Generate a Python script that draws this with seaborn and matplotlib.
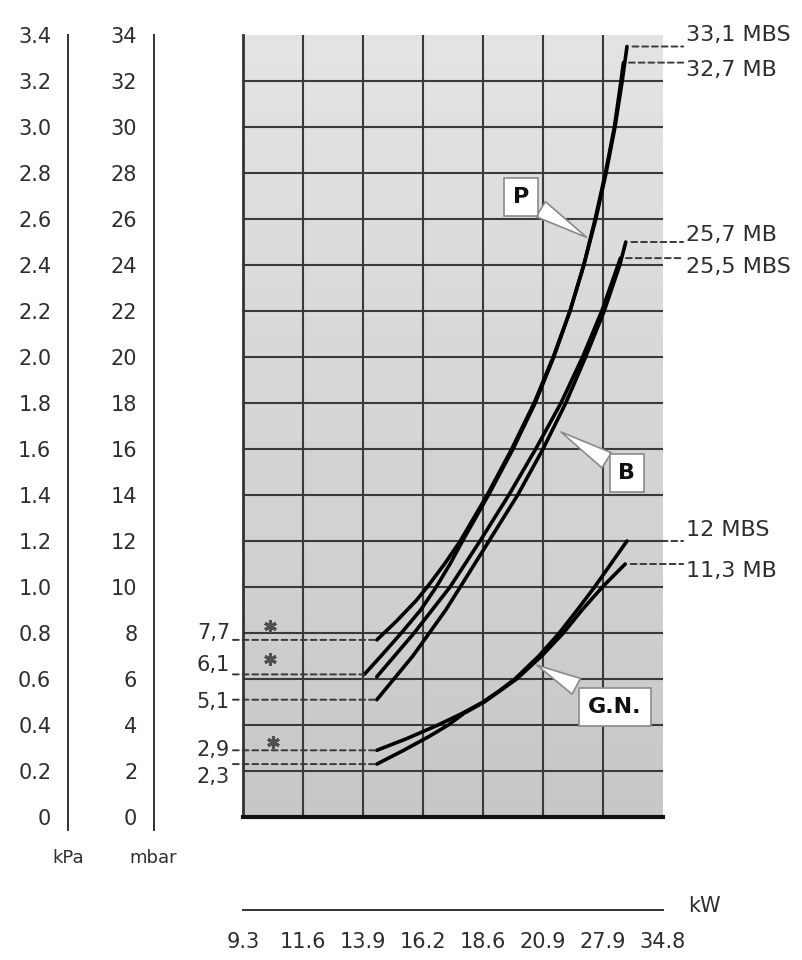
import matplotlib
matplotlib.use("Agg")
import matplotlib.pyplot as plt
import matplotlib.transforms as mtransforms
import numpy as np
import pandas as pd
import seaborn as sns

# kW scale: the ticks are evenly spaced on the chart although the values are not
KW_TICKS = [9.3, 11.6, 13.9, 16.2, 18.6, 20.9, 27.9, 34.8]
KW_LABELS = ["9.3", "11.6", "13.9", "16.2", "18.6", "20.9", "27.9", "34.8"]
MBAR_TICKS = list(range(0, 35, 2))
KPA_TICKS = [m / 10 for m in MBAR_TICKS]
KPA_LABELS = ["0"] + [f"{v:.1f}" for v in KPA_TICKS[1:]]

# pressure curves (kW, mbar)
P_MBS_KW = [14.43, 15.17, 15.93, 16.37, 17.06, 17.69, 18.76, 19.7, 20.56, 22.09, 24.05, 25.66, 27.06, 28.25, 29.28, 30.11, 30.66]
P_MBS_MBAR = [7.7, 8.5, 9.4, 10, 11, 12, 14, 16, 18, 20, 22, 24, 26, 28, 30, 32, 33.5]
P_MB_KW = [13.95, 14.59, 15.37, 16.11, 16.73, 17.28, 17.78, 18.81, 19.75, 20.6, 22.16, 24.05, 25.66, 26.99, 28.18, 29.21, 29.97, 30.25]
P_MB_MBAR = [6.2, 7, 8, 9, 10, 11, 12, 14, 16, 18, 20, 22, 24, 26, 28, 30, 32, 32.8]
B_MBS_KW = [14.43, 15.86, 17.28, 18.48, 19.59, 20.62, 23.0, 25.52, 27.76, 29.63, 29.9]
B_MBS_MBAR = [6.1, 8, 10, 12, 14, 16, 18, 20, 22, 24, 24.3]
B_MB_KW = [14.43, 15.81, 17.11, 17.69, 18.83, 19.93, 20.9, 23.56, 25.87, 28.04, 29.83, 30.52]
B_MB_MBAR = [5.1, 7, 9, 10, 12, 14, 16, 18, 20, 22, 24, 25.0]
GN_MBS_KW = [14.43, 15.56, 16.8, 17.76, 18.6, 19.24, 19.82, 20.74, 22.79, 24.89, 26.92, 28.8, 30.66]
GN_MBS_MBAR = [2.9, 3.4, 4.0, 4.5, 5.0, 5.5, 6.0, 7.0, 8.0, 9.0, 10, 11, 12]
GN_MB_KW = [14.43, 15.46, 16.44, 17.21, 17.83, 18.65, 19.89, 20.85, 23.28, 25.45, 27.83, 30.45]
GN_MB_MBAR = [2.3, 2.9, 3.5, 4.0, 4.5, 5.0, 6.0, 7.0, 8.0, 9.0, 10.0, 11.0]

# end labels on the right and start labels on the left
END_LABELS = ["33,1 MBS", "32,7 MB", "25,7 MB", "25,5 MBS", "12 MBS", "11,3 MB"]
END_LABEL_Y = [34.0, 32.5, 25.3, 23.9, 12.5, 10.7]
START_LABELS = ["7,7", "6,1", "5,1", "2,9", "2,3"]
START_LABEL_Y = [8.0, 6.6, 5.0, 2.9, 1.75]
STAR_KW = [10.34, 10.34, 10.45]
STAR_MBAR = [8.3, 6.85, 3.25]

KW = np.array(KW_TICKS)
POS = np.arange(len(KW_TICKS), dtype=float)


def kw_to_pos(v):
    v = np.asarray(v, dtype=float)
    out = np.interp(v, KW, POS)
    out = np.where(v < KW[0], (v - KW[0]) / (KW[1] - KW[0]), out)
    out = np.where(v > KW[-1], POS[-1] + (v - KW[-1]) / (KW[-1] - KW[-2]), out)
    return out


def pos_to_kw(p):
    p = np.asarray(p, dtype=float)
    out = np.interp(p, POS, KW)
    out = np.where(p < 0, KW[0] + p * (KW[1] - KW[0]), out)
    out = np.where(p > POS[-1], KW[-1] + (p - POS[-1]) * (KW[-1] - KW[-2]), out)
    return out


curves = pd.concat([
    pd.DataFrame({"kW": x, "mbar": y, "curve": name})
    for name, x, y in [
        ("P MBS", P_MBS_KW, P_MBS_MBAR),
        ("P MB", P_MB_KW, P_MB_MBAR),
        ("B MBS", B_MBS_KW, B_MBS_MBAR),
        ("B MB", B_MB_KW, B_MB_MBAR),
        ("GN MBS", GN_MBS_KW, GN_MBS_MBAR),
        ("GN MB", GN_MB_KW, GN_MB_MBAR),
    ]
])

sns.set_style("white")
plt.rcParams["font.family"] = ["DejaVu Sans"]
INK = "#2e2e2e"

fig = plt.figure(figsize=(8.03, 9.6), dpi=100)
W, H = 803, 960

# main grid
ax = fig.add_axes([243 / W, 1 - 817 / H, 420 / W, 782 / H])
ax.set_xscale("function", functions=(kw_to_pos, pos_to_kw))
shade = np.linspace(0.78, 0.89, 50).reshape(-1, 1)
ax.imshow(shade, extent=(0, 1, 0, 1), transform=ax.transAxes, cmap="gray",
          vmin=0, vmax=1, aspect="auto", origin="lower", zorder=0)
ax.set_xlim(KW_TICKS[0], KW_TICKS[-1])
ax.set_ylim(0, 34)
ax.set_xticks(KW_TICKS[1:-1])
ax.set_yticks(MBAR_TICKS[1:-1])
ax.tick_params(length=0, labelbottom=False, labelleft=False)
ax.grid(True, color="#3a3a3a", lw=1.5)
for s in ["top", "right"]:
    ax.spines[s].set_visible(False)
ax.spines["left"].set(color="#333333", lw=2)
ax.spines["bottom"].set(color="#111111", lw=3)

sns.lineplot(data=curves, x="kW", y="mbar", units="curve", estimator=None,
             sort=False, color="black", lw=2.6, ax=ax, legend=False)
ax.set_xlabel("")
ax.set_ylabel("")

blend = mtransforms.blended_transform_factory(ax.transAxes, ax.transData)
dash = dict(arrowstyle="-", linestyle=(0, (3, 2)), color="#3a3a3a", lw=1.4,
            shrinkA=0, shrinkB=0)

# right-hand end labels with leaders
ends = [(P_MBS_KW[-1], P_MBS_MBAR[-1]), (P_MB_KW[-1], P_MB_MBAR[-1]),
        (B_MB_KW[-1], B_MB_MBAR[-1]), (B_MBS_KW[-1], B_MBS_MBAR[-1]),
        (GN_MBS_KW[-1], GN_MBS_MBAR[-1]), (GN_MB_KW[-1], GN_MB_MBAR[-1])]
for (xe, ye), label, yt in zip(ends, END_LABELS, END_LABEL_Y):
    ax.annotate("", xy=(1.048, ye), xycoords=blend, xytext=(xe, ye),
                textcoords="data", arrowprops=dict(dash, shrinkB=0, shrinkA=4))
    ax.text(1.055, yt, label, transform=blend, ha="left", va="center",
            fontsize=16, color=INK)

# left-hand start labels with leaders
starts = [(P_MBS_KW[0], P_MBS_MBAR[0]), (P_MB_KW[0], P_MB_MBAR[0]),
          (B_MB_KW[0], B_MB_MBAR[0]), (GN_MBS_KW[0], GN_MBS_MBAR[0]),
          (GN_MB_KW[0], GN_MB_MBAR[0])]
for (xs, ys), label, yt in zip(starts, START_LABELS, START_LABEL_Y):
    ax.annotate("", xy=(xs, ys), xycoords="data", xytext=(-0.024, ys),
                textcoords=blend, arrowprops=dash)
    ax.text(-0.031, yt, label, transform=blend, ha="right", va="center",
            fontsize=15, color=INK)

ax.plot(STAR_KW, STAR_MBAR, ls="none", marker=(6, 2, 0), ms=9, mew=2.2,
        color="#505050", zorder=3)

# callout boxes
box = dict(boxstyle="square,pad=0.4", fc="white", ec="#8a8a8a", lw=1.2)
tail = dict(arrowstyle="wedge,tail_width=0.8,shrink_factor=0.5", fc="white",
            ec="#8a8a8a", lw=1.2, shrinkB=0)
for text, tip, centre in [("P", (26.0, 25.2), (20.05, 26.96)),
                          ("B", (23.0, 16.74), (30.66, 14.96)),
                          ("G.N.", (20.67, 6.6), (29.28, 4.78))]:
    ax.annotate(text, xy=tip, xytext=centre, ha="center", va="center",
                fontsize=16, fontweight="bold", color="#111111",
                bbox=box, arrowprops=tail, zorder=4)

# kPa and mbar scales
for xpix, lim, ticks, labels in [(68, (-0.0565, 3.4), KPA_TICKS, KPA_LABELS),
                                 (154, (-0.565, 34), MBAR_TICKS,
                                  [str(m) for m in MBAR_TICKS])]:
    a = fig.add_axes([xpix / W, 1 - 830 / H, 0.0001, 795 / H])
    a.set_ylim(lim)
    a.patch.set_visible(False)
    for s in ["top", "right", "bottom"]:
        a.spines[s].set_visible(False)
    a.spines["left"].set(color="#333333", lw=1.4)
    a.set_xticks([])
    a.set_yticks(ticks, labels)
    a.tick_params(axis="y", direction="inout", length=16, width=1.4,
                  color="#333333", labelsize=15, labelcolor=INK, pad=4)

fig.text(68 / W, 1 - 858 / H, "kPa", ha="center", va="center", fontsize=13, color=INK)
fig.text(153 / W, 1 - 858 / H, "mbar", ha="center", va="center", fontsize=13, color=INK)

# kW scale
akw = fig.add_axes([243 / W, 1 - 910 / H, 420 / W, 0.0001])
akw.set_xscale("function", functions=(kw_to_pos, pos_to_kw))
akw.set_xlim(KW_TICKS[0], KW_TICKS[-1])
akw.patch.set_visible(False)
for s in ["top", "right", "left"]:
    akw.spines[s].set_visible(False)
akw.spines["bottom"].set(color="#333333", lw=1.4)
akw.set_yticks([])
akw.set_xticks(KW_TICKS, KW_LABELS)
akw.minorticks_off()
akw.tick_params(axis="x", direction="inout", length=19, width=1.4,
                color="#333333", labelsize=15, labelcolor=INK, pad=6)
fig.text(688 / W, 1 - 906 / H, "kW", ha="left", va="center", fontsize=15, color=INK)

fig.savefig("out.png", dpi=100)
